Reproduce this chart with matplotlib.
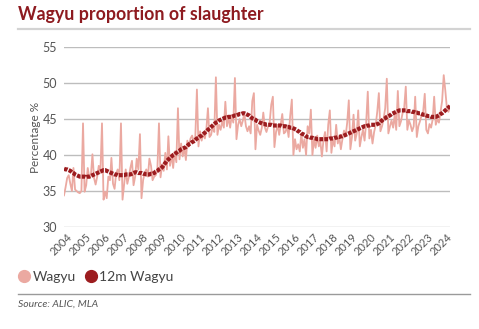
import matplotlib
matplotlib.use("Agg")
import matplotlib.pyplot as plt
import matplotlib.transforms as mtransforms
from matplotlib.lines import Line2D
import pandas as pd

# monthly data, Sep 2003 .. Jan 2024 (% of slaughter)
start_month = "2003-09-01"
wagyu = [
    34.4, 35.5, 36.8, 37.2, 36.0, 35.0, 38.2, 35.2, 35.0, 34.8, 34.7, 35.0, 44.4,
    34.9, 35.8, 38.2, 36.8, 37.3, 40.1, 36.8, 35.9, 37.0, 38.5, 37.5, 44.4,
    33.8, 34.9, 34.0, 37.0, 36.5, 39.6, 36.0, 35.3, 37.5, 38.0, 36.5, 44.4,
    33.8, 36.0, 38.0, 36.0, 37.0, 38.2, 39.2, 35.8, 37.0, 39.5, 38.0, 42.9,
    34.0, 36.5, 37.5, 38.0, 37.0, 39.5, 38.5, 36.5, 37.0, 37.2, 38.0, 44.4,
    36.9, 38.7, 37.8, 40.3, 38.0, 42.6, 38.5, 40.0, 38.2, 40.5, 39.0, 46.5,
    39.4, 41.6, 39.8, 41.0, 39.3, 42.0, 41.2, 42.3, 42.7, 41.8, 42.5, 49.1,
    41.2, 43.3, 42.0, 43.0, 42.3, 43.5, 46.5, 42.5, 42.8, 44.0, 43.2, 50.8,
    42.8, 44.2, 43.5, 44.7, 43.8, 47.4, 44.0, 45.3, 43.8, 45.5, 44.5, 50.7,
    42.2, 44.2, 45.0, 44.0, 44.8, 45.8, 44.0, 43.3, 44.0, 43.0, 47.5, 48.6,
    40.8, 44.2, 43.4, 42.8, 43.8, 45.9, 43.8, 43.2, 44.0, 44.5, 47.0, 48.1,
    41.1, 43.2, 44.2, 42.8, 44.3, 45.7, 43.0, 43.2, 44.0, 42.5, 45.5, 47.7,
    40.0, 42.2, 40.8, 41.5, 40.5, 43.0, 41.0, 42.2, 40.0, 44.0, 43.0, 46.3,
    40.0, 42.2, 41.0, 42.7, 41.2, 42.0, 39.8, 42.0, 43.2, 40.5, 44.2, 46.2,
    40.3, 42.2, 41.2, 44.2, 41.6, 42.6, 40.8, 42.2, 43.4, 42.6, 44.5, 47.6,
    40.8, 42.5, 45.6, 42.0, 43.0, 46.2, 41.2, 42.5, 43.5, 42.0, 44.5, 48.8,
    42.3, 43.5, 41.6, 43.2, 44.2, 46.0, 48.6, 43.3, 44.0, 45.0, 46.5, 50.6,
    43.0, 44.0, 44.8, 43.8, 45.6, 43.5, 48.9, 44.0, 44.7, 45.8, 46.5, 49.5,
    43.5, 44.8, 44.2, 43.3, 44.0, 48.1, 42.5, 44.0, 44.7, 45.5, 46.0, 48.5,
    43.5, 43.0, 44.3, 43.8, 45.0, 48.1, 44.2, 45.0, 44.5, 46.0, 47.5, 51.1,
    49.0, 46.5, 46.0, 46.8,
]
wagyu_12m = [
    38.1, 38.0, 38.0, 37.9, 37.8, 37.6, 37.5, 37.3, 37.2, 37.1, 37.0, 37.0, 37.0,
    37.0, 36.9, 37.0, 37.0, 37.1, 37.2, 37.3, 37.4, 37.5, 37.6, 37.7, 37.8,
    37.9, 37.9, 37.8, 37.7, 37.6, 37.5, 37.4, 37.3, 37.3, 37.2, 37.2, 37.2,
    37.2, 37.2, 37.3, 37.3, 37.3, 37.3, 37.4, 37.5, 37.6, 37.6, 37.5, 37.5,
    37.5, 37.4, 37.4, 37.3, 37.3, 37.3, 37.4, 37.4, 37.5, 37.7, 37.8, 38.0,
    38.1, 38.3, 38.6, 38.9, 39.2, 39.4, 39.6, 39.8, 40.0, 40.1, 40.3, 40.5,
    40.6, 40.8, 40.9, 41.0, 41.1, 41.3, 41.5, 41.6, 41.8, 41.9, 42.1, 42.3,
    42.4, 42.6, 42.7, 42.9, 43.1, 43.3, 43.5, 43.7, 43.9, 44.1, 44.3, 44.5,
    44.6, 44.8, 44.9, 45.0, 45.1, 45.2, 45.2, 45.3, 45.3, 45.3, 45.4, 45.5,
    45.5, 45.6, 45.7, 45.7, 45.8, 45.8, 45.7, 45.6, 45.5, 45.3, 45.1, 45.0,
    44.9, 44.7, 44.6, 44.5, 44.4, 44.3, 44.3, 44.2, 44.2, 44.2, 44.2, 44.1,
    44.1, 44.1, 44.1, 44.1, 44.1, 44.0, 44.0, 44.0, 43.9, 43.9, 43.8, 43.8,
    43.7, 43.6, 43.5, 43.3, 43.2, 43.0, 42.9, 42.8, 42.6, 42.5, 42.5, 42.4,
    42.4, 42.3, 42.3, 42.2, 42.2, 42.2, 42.2, 42.2, 42.2, 42.2, 42.2, 42.3,
    42.3, 42.3, 42.4, 42.4, 42.5, 42.5, 42.6, 42.6, 42.7, 42.8, 42.9, 43.0,
    43.1, 43.2, 43.3, 43.4, 43.5, 43.6, 43.7, 43.8, 43.9, 44.0, 44.0, 44.1,
    44.1, 44.2, 44.2, 44.2, 44.2, 44.3, 44.4, 44.6, 44.8, 45.0, 45.1, 45.3,
    45.4, 45.5, 45.7, 45.8, 45.9, 46.0, 46.1, 46.2, 46.2, 46.2, 46.2, 46.2,
    46.1, 46.1, 46.1, 46.0, 46.0, 45.9, 45.9, 45.8, 45.8, 45.7, 45.6, 45.6,
    45.5, 45.4, 45.4, 45.3, 45.3, 45.3, 45.3, 45.4, 45.5, 45.7, 45.8, 46.0,
    46.2, 46.4, 46.6, 46.8,
]
years = list(range(2004, 2025))
y_ticks = [30, 35, 40, 45, 50, 55]

dates = pd.date_range(start_month, periods=len(wagyu), freq="MS")

plt.rcParams["font.family"] = ["Lato", "DejaVu Sans"]
txt_grey = "#555555"
pink = "#EBA9A1"
dark_red = "#9C1C1F"

fig = plt.figure(figsize=(4.79, 3.29), dpi=100)
ax = fig.add_axes([0.1336, 0.31, 0.806, 0.547])

ax.plot(dates, wagyu, color=pink, lw=1.3, zorder=2)
ax.plot(dates, wagyu_12m, color=dark_red, lw=3.0, linestyle=(0, (0.9, 0.3)),
        dash_capstyle="butt", zorder=3)

ax.set_ylim(30, 55)
ax.set_xlim(dates[0], dates[-1])
ax.set_yticks(y_ticks)
ax.set_xticks([pd.Timestamp(f"{y}-01-01") for y in years])
ax.set_xticklabels([str(y) for y in years], rotation=45, ha="right",
                    va="center", rotation_mode="anchor")
offset = mtransforms.ScaledTranslation(6 / 100, 0, fig.dpi_scale_trans)
for lab in ax.get_xticklabels():
    lab.set_transform(lab.get_transform() + offset)
ax.tick_params(axis="both", length=0, labelcolor=txt_grey)
ax.tick_params(axis="y", labelsize=9, pad=5)
ax.tick_params(axis="x", labelsize=8, pad=6)
ax.grid(axis="y", color="#BDBDBD", lw=1)
ax.set_axisbelow(True)
for s in ax.spines.values():
    s.set_visible(False)
ax.set_ylabel("Percentage %", color=txt_grey, fontsize=8.5, labelpad=1)

fig.text(0.038, 0.955, "Wagyu proportion of slaughter", color="#8E1B20",
         fontsize=12.8, fontweight="bold", va="center", ha="left")
fig.add_artist(Line2D([0.038, 0.981], [0.912, 0.912], color="#D3D3D3", lw=1.6,
                      transform=fig.transFigure))

handles = [
    Line2D([], [], marker="o", ls="none", color=pink, markersize=8.5),
    Line2D([], [], marker="o", ls="none", color=dark_red, markersize=8.5),
]
fig.legend(handles, ["Wagyu", "12m Wagyu"], loc="center left",
           bbox_to_anchor=(0.042, 0.158), ncol=2, frameon=False, fontsize=10,
           handlelength=0.6, handletextpad=0.3, columnspacing=0.8,
           borderpad=0, borderaxespad=0, labelcolor="#444444")

fig.add_artist(Line2D([0.038, 0.981], [0.106, 0.106], color="#9A9A9A", lw=1,
                      transform=fig.transFigure))
fig.text(0.038, 0.075, "Source: ALIC, MLA", color=txt_grey, fontsize=7.5,
         style="italic", va="center", ha="left")

fig.savefig("out.png", dpi=100)
